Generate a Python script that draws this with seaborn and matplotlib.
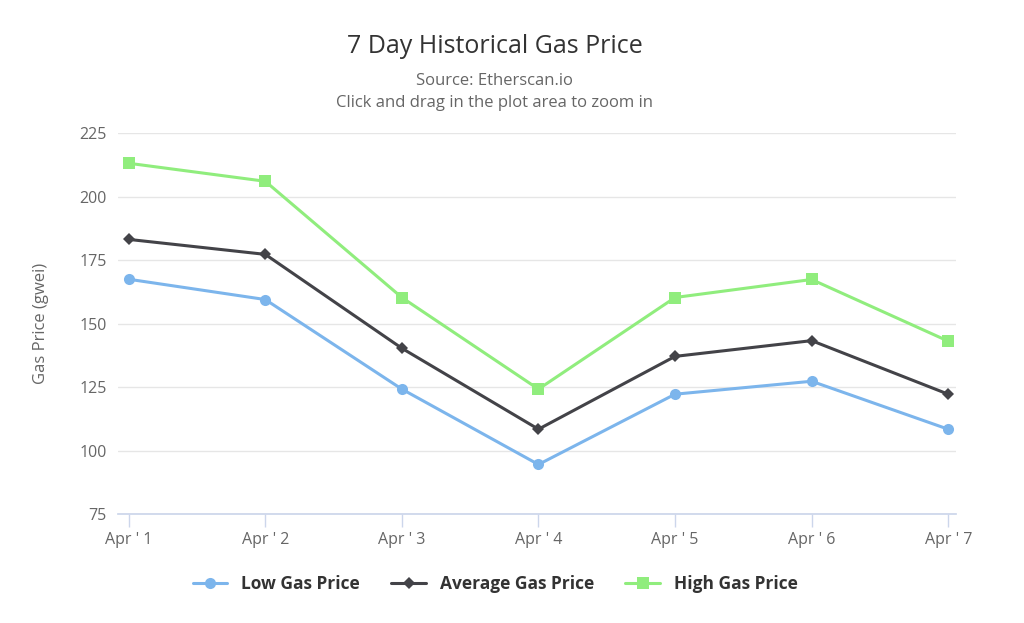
import matplotlib
matplotlib.use("Agg")
import matplotlib.pyplot as plt
import seaborn as sns
import pandas as pd

days = ["Apr ' 1", "Apr ' 2", "Apr ' 3", "Apr ' 4", "Apr ' 5", "Apr ' 6", "Apr ' 7"]
low = [167.5, 159.5, 124.2, 94.5, 122.2, 127.3, 108.4]
avg = [183.2, 177.3, 140.3, 108.4, 137.1, 143.3, 122.2]
high = [213.2, 206.1, 160.3, 124.2, 160.3, 167.4, 143.1]

sns.set_theme(style="white")
plt.rcParams['font.family'] = ['Open Sans', 'DejaVu Sans']

df = pd.DataFrame({"x": range(len(days)), "Low Gas Price": low,
                   "Average Gas Price": avg, "High Gas Price": high})

fig = plt.figure(figsize=(10.24, 6.23), dpi=100)
ax = fig.add_axes([0.115, 0.175, 0.819, 0.611])

series = [("Low Gas Price", "#7cb5ec", "o", 8),
          ("Average Gas Price", "#434348", "D", 6),
          ("High Gas Price", "#90ed7d", "s", 8)]
for name, color, marker, ms in series:
    sns.lineplot(data=df, x="x", y=name, ax=ax, color=color, marker=marker,
                 markersize=ms, markeredgewidth=0, linewidth=2.2, label=name)

ax.set_xlim(-0.08, 6.06)
ax.set_ylim(75, 225)
ax.set_yticks(range(75, 226, 25))
ax.set_xticks(range(len(days)))
ax.set_xticklabels(days)
ax.tick_params(axis="y", colors="#666666", labelsize=11.5, length=0, pad=8)
ax.tick_params(axis="x", colors="#ccd6eb", labelcolor="#666666", labelsize=11.5,
               length=9, width=1, direction="out", bottom=True, pad=4)
ax.yaxis.grid(True, color="#e6e6e6", linewidth=1)
ax.xaxis.grid(False)
for s in ["top", "right", "left"]:
    ax.spines[s].set_visible(False)
ax.spines["bottom"].set_color("#ccd6eb")
ax.set_xlabel("")
ax.set_ylabel("Gas Price (gwei)", color="#666666", fontsize=12, labelpad=22)

fig.text(0.483, 0.925, "7 Day Historical Gas Price", ha="center", va="center",
         fontsize=18, color="#333333")
fig.text(0.483, 0.870, "Source: Etherscan.io", ha="center", va="center", fontsize=12, color="#666666")
fig.text(0.483, 0.835, "Click and drag in the plot area to zoom in", ha="center", va="center",
         fontsize=12, color="#666666")

ax.legend(loc="upper center", bbox_to_anchor=(0.45, -0.12), ncol=3, frameon=False,
          prop={"weight": "bold", "size": 12.5}, labelcolor="#333333",
          handlelength=2, columnspacing=1.8)

fig.savefig("out.png", dpi=100)
